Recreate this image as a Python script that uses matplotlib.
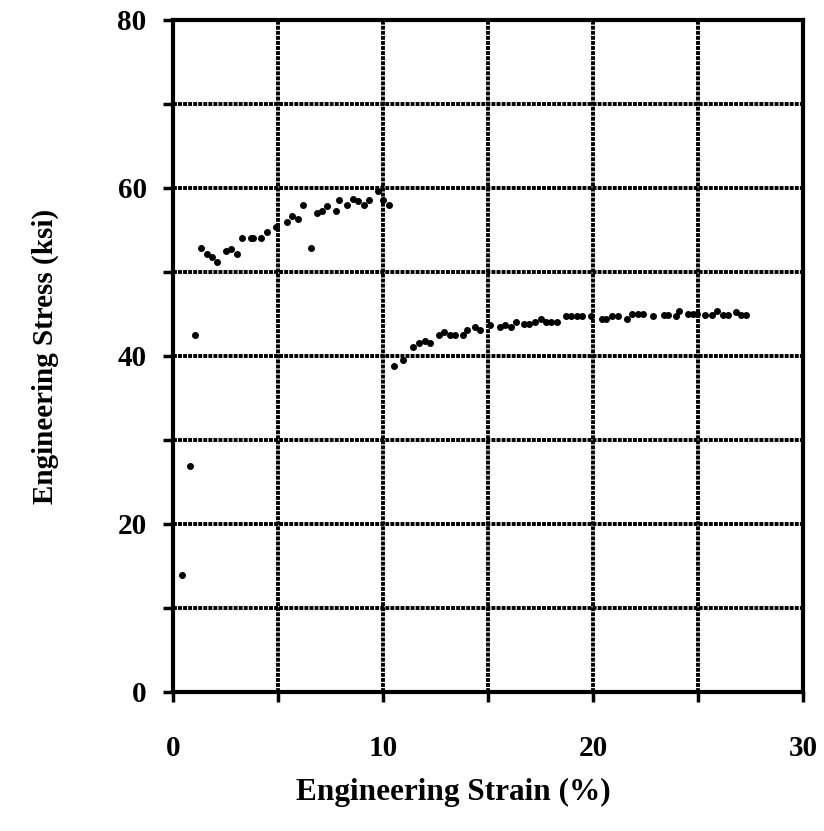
import numpy as np
import matplotlib
matplotlib.use("Agg")
import matplotlib.pyplot as plt

# strain (%) and stress (ksi)
strain_a = [0.41, 0.81, 1.05, 1.32, 1.60, 1.84, 2.11, 2.51, 2.76, 3.05, 3.30, 3.70, 3.82,
            4.20, 4.49, 4.89, 5.41, 5.68, 5.95, 6.21, 6.57, 6.86, 7.11, 7.35, 7.78, 7.90,
            8.29, 8.56, 8.81, 9.08, 9.35, 9.75, 9.98, 10.29]
stress_a = [13.9, 26.9, 42.5, 52.8, 52.1, 51.8, 51.2, 52.5, 52.7, 52.1, 54.0, 54.0, 54.0,
            54.0, 54.8, 55.4, 56.0, 56.7, 56.3, 58.0, 52.8, 57.0, 57.3, 57.9, 57.3, 58.6,
            58.0, 58.7, 58.4, 58.0, 58.6, 59.6, 58.6, 58.0]

strain_b = [10.51, 10.94, 11.44, 11.73, 11.98, 12.24, 12.65, 12.90, 13.19, 13.44, 13.82,
            14.00, 14.37, 14.62, 15.10, 15.57, 15.82, 16.08, 16.35, 16.71, 16.97, 17.24,
            17.51, 17.75, 18.01, 18.27, 18.70, 18.95, 19.22, 19.48, 19.89, 20.41, 20.62,
            20.92, 21.17, 21.60, 21.87, 22.13, 22.38, 22.87, 23.38, 23.59, 23.95, 24.08,
            24.51, 24.76, 24.97, 25.33, 25.68, 25.90, 26.18, 26.41, 26.80, 27.05, 27.29]
stress_b = [38.8, 39.5, 41.1, 41.5, 41.75, 41.5, 42.5, 42.8, 42.5, 42.5, 42.5,
            43.1, 43.5, 43.1, 43.7, 43.4, 43.7, 43.4, 44.1, 43.8, 43.8, 44.0,
            44.4, 44.0, 44.0, 44.0, 44.7, 44.7, 44.7, 44.7, 44.7, 44.4, 44.4,
            44.8, 44.8, 44.4, 45.0, 45.0, 45.0, 44.7, 44.9, 44.9, 44.7, 45.4,
            45.0, 45.0, 45.0, 44.9, 44.9, 45.3, 44.9, 44.9, 45.2, 44.9, 44.9]

x_labels = [0, 10, 20, 30]
y_labels = [0, 20, 40, 60, 80]

plt.rcParams['font.family'] = ['Liberation Serif', 'DejaVu Serif']

fig = plt.figure(figsize=(8.24, 8.31), dpi=100)
ax = fig.add_axes([0.21, 0.1673, 0.7645, 0.8087])

ax.scatter(strain_a + strain_b, stress_a + stress_b, s=16, color='black', zorder=3)

ax.set_xlim(0, 30)
ax.set_ylim(0, 80)
ax.set_xticks(np.arange(0, 31, 5))
ax.set_xticklabels([str(v) if v in x_labels else '' for v in range(0, 31, 5)])
ax.set_yticks(np.arange(0, 81, 10))
ax.set_yticklabels([str(v) if v in y_labels else '' for v in range(0, 81, 10)])
ax.tick_params(direction='out', length=7, width=2.5, labelsize=21, colors='black')
ax.tick_params(axis='x', pad=24)
ax.tick_params(axis='y', pad=12)
for lab in ax.get_xticklabels() + ax.get_yticklabels():
    lab.set_fontweight('bold')

ax.grid(True, color='black', linewidth=2.8, linestyle=(0, (1, 0.3)), zorder=1)
for s in ax.spines.values():
    s.set_linewidth(3)

ax.set_xlabel('Engineering Strain (%)', fontsize=22.5, fontweight='bold')
ax.set_ylabel('Engineering Stress (ksi)', fontsize=21, fontweight='bold', labelpad=42)
ax.xaxis.set_label_coords(0.445, -0.128)

plt.savefig('out.png', dpi=100)
plt.close()
